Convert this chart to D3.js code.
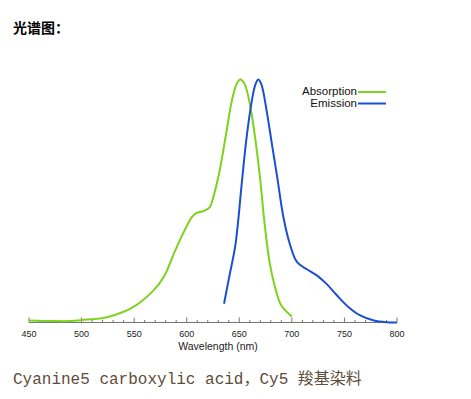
<!DOCTYPE html>
<html>
<head>
<meta charset="utf-8">
<script src="https://cdn.jsdelivr.net/npm/d3@7"></script>
<style>
  body { margin: 0; background: #fff; }
  svg { display: block; }
</style>
</head>
<body>
<div id="chartDiv"></div>
<script>
// absorption spectrum (wavelength nm, normalised intensity)
const absWl  = [450, 470, 490, 500, 520, 533, 549, 568, 578, 589, 598, 604.7, 609.5, 615.8, 622, 625.3, 628.5, 631.6, 638, 643, 647.5, 651, 655, 660, 665, 670, 674, 679, 684, 690, 700];
const absVal = [0.008, 0.006, 0.006, 0.01, 0.018, 0.033, 0.063, 0.13, 0.186, 0.296, 0.379, 0.433, 0.451, 0.458, 0.475, 0.516, 0.57, 0.63, 0.79, 0.914, 0.982, 1.0, 0.982, 0.9, 0.763, 0.584, 0.41, 0.243, 0.145, 0.07, 0.025];
// emission spectrum
const emWl  = [635.5, 641, 646, 649, 652, 657, 662, 665, 668, 671, 676, 681, 686, 692, 698, 705, 714, 724, 733, 743, 754, 765, 778, 790, 800];
const emVal = [0.077, 0.2, 0.31, 0.42, 0.557, 0.763, 0.914, 0.975, 1.0, 0.98, 0.872, 0.735, 0.6, 0.433, 0.324, 0.248, 0.22, 0.193, 0.159, 0.111, 0.063, 0.029, 0.008, 0.001, 0.0];

const xTicks = [450, 500, 550, 600, 650, 700, 750, 800];
const legendNames = ["Absorption", "Emission"];
const seriesColors = ["#7cd21c", "#1a4fd4"];

const width = 471, height = 399;

let svg = d3.select("#chartDiv").append("svg")
    .attr("width", width)
    .attr("height", height);

// title
svg.append("text")
    .attr("x", 13)
    .attr("y", 33)
    .style("font-family", "'Noto Sans CJK SC', sans-serif")
    .style("font-size", "14px")
    .style("font-weight", "bold")
    .style("fill", "#000")
    .text("光谱图：");

let x = d3.scaleLinear().domain([450, 800]).range([29, 397]);
let y = d3.scaleLinear().domain([0, 1]).range([322.5, 79.5]);

// axis: ticks pointing up, minor every 10 nm
const axisColor = "#777";
let axisG = svg.append("g").attr("class", "axis");
axisG.append("line")
    .attr("x1", x(450)).attr("x2", x(800))
    .attr("y1", y(0)).attr("y2", y(0))
    .attr("stroke", axisColor).attr("stroke-width", 1);

axisG.selectAll("line.minor")
    .data(d3.range(450, 801, 10))
    .enter()
    .append("line")
    .attr("class", "minor")
    .attr("x1", d => x(d)).attr("x2", d => x(d))
    .attr("y1", y(0)).attr("y2", d => y(0) - (d % 50 === 0 ? 5 : 2.5))
    .attr("stroke", axisColor).attr("stroke-width", 1);

axisG.selectAll("text.tick")
    .data(xTicks)
    .enter()
    .append("text")
    .attr("class", "tick")
    .attr("x", d => x(d))
    .attr("y", y(0) + 14)
    .style("text-anchor", "middle")
    .style("font-family", "'Liberation Sans', Arial, sans-serif")
    .style("font-size", "9px")
    .style("fill", "#222")
    .text(d => d);

svg.append("text")
    .attr("x", 218)
    .attr("y", 350)
    .style("text-anchor", "middle")
    .style("font-family", "'Liberation Sans', Arial, sans-serif")
    .style("font-size", "10.5px")
    .style("fill", "#222")
    .text("Wavelength (nm)");

// curves
let line = d3.line()
    .x(d => x(d[0]))
    .y(d => y(d[1]))
    .curve(d3.curveCatmullRom.alpha(0.5));

const series = [
    d3.zip(absWl, absVal),
    d3.zip(emWl, emVal)
];

svg.selectAll("path.spec")
    .data(series)
    .enter()
    .append("path")
    .attr("class", "spec")
    .attr("d", line)
    .attr("fill", "none")
    .attr("stroke", (d, i) => seriesColors[i])
    .attr("stroke-width", 2);

// legend
let legend = svg.selectAll("g.legend")
    .data(legendNames)
    .enter()
    .append("g")
    .attr("class", "legend")
    .attr("transform", (d, i) => `translate(357, ${91 + i * 11.5})`);

legend.append("text")
    .attr("x", 0)
    .attr("y", 0)
    .attr("dy", "0.35em")
    .style("text-anchor", "end")
    .style("font-family", "'Liberation Sans', Arial, sans-serif")
    .style("font-size", "11.5px")
    .style("fill", "#111")
    .text(d => d);

legend.append("line")
    .attr("x1", 1).attr("x2", 29)
    .attr("y1", 1).attr("y2", 1)
    .attr("stroke", (d, i) => seriesColors[i])
    .attr("stroke-width", 2);

// caption
svg.append("text")
    .attr("x", 13)
    .attr("y", 384)
    .style("font-family", "'Liberation Mono', 'Noto Sans CJK SC', monospace")
    .style("font-size", "16px")
    .style("fill", "#5e4c3a")
    .text("Cyanine5 carboxylic acid，Cy5 羧基染料");
</script>
</body>
</html>
